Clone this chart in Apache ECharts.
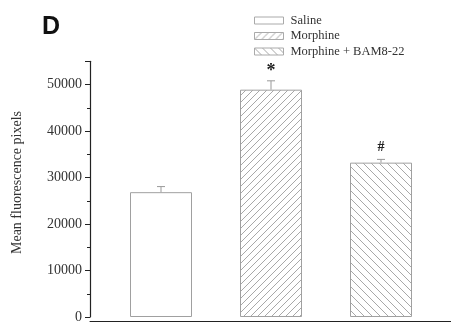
<!DOCTYPE html>
<html><head><meta charset="utf-8">
<script src="https://cdn.jsdelivr.net/npm/echarts@6/dist/echarts.min.js"></script>
<style>html,body{margin:0;padding:0;background:#fff}#c{width:451px;height:324px}</style>
</head><body><div id="c"></div>
<script>
const categories = ['Saline', 'Morphine', 'Morphine + BAM8-22'];
const means = [26850, 48900, 33200];
const errors = [1200, 1900, 700];
const marks = ['', '*', '#'];

function hatch(size, dir, color) {
  const c = document.createElement('canvas');
  c.width = size; c.height = size;
  const g = c.getContext('2d');
  g.fillStyle = '#fff'; g.fillRect(0, 0, size, size);
  g.strokeStyle = color; g.lineWidth = 1;
  g.beginPath();
  if (dir > 0) {
    for (let k = -1; k <= 1; k++) { g.moveTo(k*size, size); g.lineTo(k*size + size, 0); }
  } else {
    for (let k = -1; k <= 1; k++) { g.moveTo(k*size, 0); g.lineTo(k*size + size, size); }
  }
  g.stroke();
  return { image: c, repeat: 'repeat' };
}

const fills = ['#ffffff', hatch(7, 1, '#a8a8a8'), hatch(8, -1, '#a8a8a8')];
const border = '#a0a0a0';
const serif = 'Liberation Serif';

const chart = echarts.init(document.getElementById('c'), null, { renderer: 'canvas' });

const barSeries = categories.map((name, i) => ({
  name: name,
  type: 'bar',
  xAxisIndex: 0, yAxisIndex: 0,
  barWidth: 62,
  barGap: '-100%',
  data: means.map((v, j) => (j === i ? v : null)),
  itemStyle: { color: fills[i], borderColor: border, borderWidth: 1 },
  emphasis: { disabled: true },
  z: 2
}));

chart.setOption({
  animation: false,
  backgroundColor: '#fff',
  grid: [
    { left: 106, right: 15, top: 61.3, bottom: 2.3 },
    { left: 90, right: 0, top: 61.3, bottom: 2.3 }
  ],
  legend: {
    orient: 'vertical',
    left: 254, top: 14, padding: 0,
    icon: 'rect',
    itemWidth: 29, itemHeight: 7, itemGap: 2.5,
    itemStyle: { borderColor: '#aaaaaa', borderWidth: 1 },
    data: categories,
    textStyle: { fontFamily: serif, fontSize: 12.5, color: '#333', padding: [0, 0, 0, 2] },
    selectedMode: false
  },
  xAxis: [
    { type: 'category', gridIndex: 0, data: categories, axisLine: { show: false },
      axisTick: { show: false }, axisLabel: { show: false } },
    { type: 'value', gridIndex: 1, min: 0, max: 1, axisLine: { show: true, lineStyle: { color: '#222', width: 1 } },
      axisTick: { show: false }, axisLabel: { show: false }, splitLine: { show: false } }
  ],
  yAxis: [
    { type: 'value', gridIndex: 0, min: 0, max: 55000, interval: 10000, offset: 16,
      axisLine: { show: true, lineStyle: { color: '#222', width: 1.2 } },
      axisTick: { show: true, length: 5, lineStyle: { color: '#222' } },
      minorTick: { show: true, splitNumber: 2, length: 3, lineStyle: { color: '#222' } },
      splitLine: { show: false },
      axisLabel: { margin: 8, fontFamily: serif, fontSize: 14, color: '#333',
        formatter: v => (v % 10000 === 0 ? String(v) : '') } },
    { type: 'value', gridIndex: 1, show: false, min: 0, max: 1 }
  ],
  graphic: [
    { type: 'text', left: 42, top: 15, style: { text: 'D', font: 'bold 25px "Liberation Sans"', fill: '#111' } },
    { type: 'text', x: 17, y: 182.5, rotation: Math.PI / 2,
      style: { text: 'Mean fluorescence pixels', font: '14px "Liberation Serif"', fill: '#333',
        textAlign: 'center', textVerticalAlign: 'middle' } }
  ],
  series: barSeries.concat([{
    type: 'custom',
    xAxisIndex: 0, yAxisIndex: 0,
    z: 5,
    data: means.map((v, i) => [i, v, errors[i], marks[i]]),
    renderItem: function (params, api) {
      const i = api.value(0), v = api.value(1), e = api.value(2);
      const top = api.coord([i, v + e]);
      const bot = api.coord([i, v]);
      const mark = marks[params.dataIndex];
      const st = { stroke: '#999', lineWidth: 1 };
      const children = [
        { type: 'line', shape: { x1: top[0], y1: top[1], x2: bot[0], y2: bot[1] }, style: st },
        { type: 'line', shape: { x1: top[0] - 4, y1: top[1], x2: top[0] + 4, y2: top[1] }, style: st }
      ];
      if (mark) {
        children.push({ type: 'text', x: top[0], y: top[1] - (mark === '*' ? 0 : 5),
          style: { text: mark, font: (mark === '*' ? 'bold 18px ' : 'bold 14px ') + '"Liberation Serif"',
            fill: '#222', textAlign: 'center', textVerticalAlign: 'bottom' } });
      }
      return { type: 'group', children: children };
    }
  }])
});
</script></body></html>
